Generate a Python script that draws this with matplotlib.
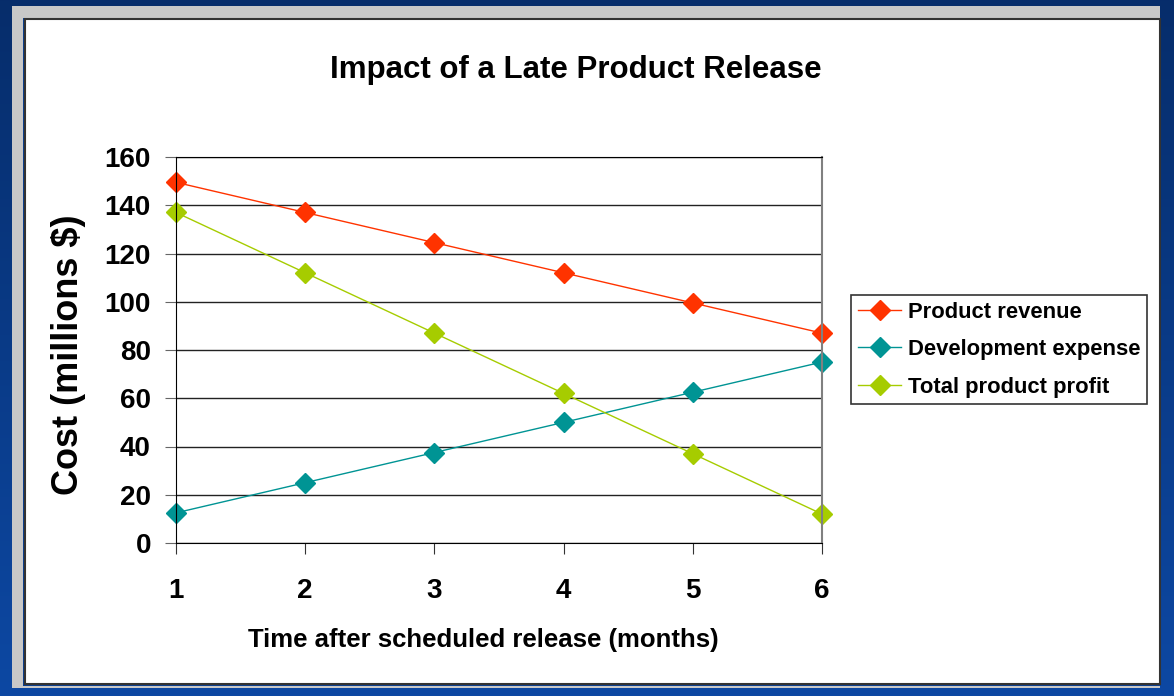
import numpy as np
import matplotlib.pyplot as plt
from matplotlib.patches import Rectangle
from matplotlib.colors import LinearSegmentedColormap

plt.rcParams['font.family'] = ['Liberation Sans', 'DejaVu Sans']

months = [1, 2, 3, 4, 5, 6]
revenue = [149.5, 137, 124.5, 112, 99.5, 87]
dev_expense = [12.5, 25, 37.5, 50, 62.5, 75]
profit = [137, 112, 87, 62, 37, 12]
y_ticks = [0, 20, 40, 60, 80, 100, 120, 140, 160]

W, H = 1174, 696
fig = plt.figure(figsize=(W / 100, H / 100), dpi=100)

# blue slide background
bg = fig.add_axes([0, 0, 1, 1], zorder=-10)
grad = np.linspace(0, 1, 256).reshape(-1, 1)
bg.imshow(grad, aspect='auto', cmap=LinearSegmentedColormap.from_list('bl', ['#062d6b', '#0d48a3']),
          extent=[0, 1, 0, 1], origin='upper')
bg.set_axis_off()

# bevel + white chart panel
fig.patches.append(Rectangle((12/W, 1 - 688/H), 1148/W, 682/H, transform=fig.transFigure,
                             facecolor='#c8c8c8', edgecolor='none', zorder=-5))
fig.patches.append(Rectangle((23/W, 1 - 686/H), 1138/W, 668/H, transform=fig.transFigure,
                             facecolor='#0b3f8f', edgecolor='none', zorder=-4))
fig.patches.append(Rectangle((25/W, 1 - 684/H), 1135/W, 665/H, transform=fig.transFigure,
                             facecolor='white', edgecolor='#333333', lw=1.5, zorder=-3))

ax = fig.add_axes([176/W, 1 - 543/H, 646/W, 386/H])
ax.plot(months, revenue, color='#ff3300', lw=1, marker='D', ms=10, label='Product revenue', clip_on=False)
ax.plot(months, dev_expense, color='#009494', lw=1, marker='D', ms=10, label='Development expense', clip_on=False)
ax.plot(months, profit, color='#a6cc00', lw=1, marker='D', ms=10, label='Total product profit', clip_on=False)

ax.set_xlim(1, 6)
ax.set_ylim(0, 160)
ax.set_yticks(y_ticks)
ax.set_xticks(months)
ax.yaxis.grid(True, color='#222222', lw=1)
ax.set_axisbelow(True)
for s in ['top', 'bottom', 'left']:
    ax.spines[s].set_color('black')
ax.spines['right'].set_color('#808080')
ax.spines['right'].set_linewidth(1.5)
ax.tick_params(axis='y', direction='out', length=8, color='#666666', labelsize=20, pad=10)
ax.tick_params(axis='x', direction='out', length=8, color='#333333', labelsize=20, pad=17)
for lab in ax.get_xticklabels() + ax.get_yticklabels():
    lab.set_fontweight('bold')

fig.text(576/W, 1 - 70/H, 'Impact of a Late Product Release', fontsize=22.5, fontweight='bold',
         ha='center', va='center')
fig.text(483/W, 1 - 640/H, 'Time after scheduled release (months)', fontsize=18.5, fontweight='bold',
         ha='center', va='center')
fig.text(69/W, 1 - 355/H, 'Cost (millions $)', fontsize=26, fontweight='bold', rotation=90,
         ha='center', va='center')

leg = ax.legend(loc='upper left', bbox_to_anchor=(851/W, 1 - 295/H), bbox_transform=fig.transFigure,
                frameon=True, fancybox=False, edgecolor='black', prop={'weight': 'bold', 'size': 15.8},
                handlelength=2.0, handletextpad=0.3, borderpad=0.3, labelspacing=0.75, borderaxespad=0)
leg.get_frame().set_linewidth(1.2)

fig.savefig('out.png', dpi=100)
